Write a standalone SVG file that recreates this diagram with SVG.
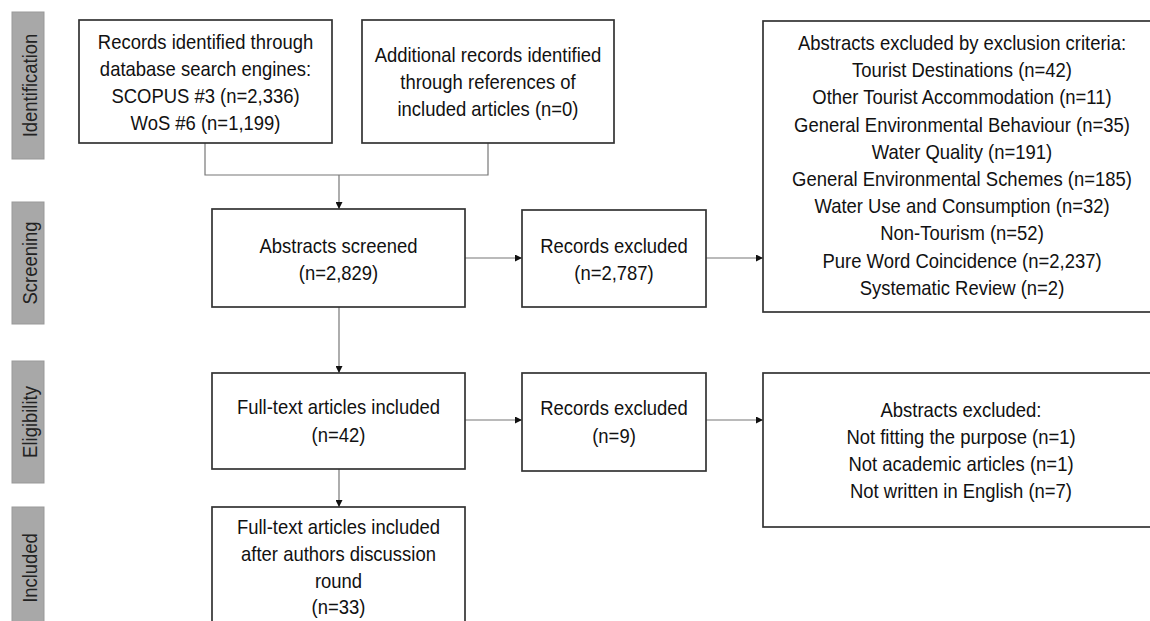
<svg xmlns="http://www.w3.org/2000/svg" width="1150" height="621" viewBox="0 0 1150 621">
<style>
.bg{fill:#ffffff}
.box{fill:#ffffff;stroke:#333333;stroke-width:1.7}
.lab{fill:#a8a8a8;stroke:#999999;stroke-width:1}
.t{font-family:"Liberation Sans",Arial,sans-serif;font-size:20.5px;fill:#111111;text-anchor:middle}
.lt{font-family:"Liberation Sans",Arial,sans-serif;font-size:20.5px;fill:#222222;text-anchor:middle}
.c{fill:none;stroke:#777777;stroke-width:1.2}
</style>
<defs>
<marker id="ah" viewBox="0 0 10 10" refX="10" refY="5" markerWidth="8" markerHeight="7" markerUnits="userSpaceOnUse" orient="auto">
<path d="M0,0 L10,5 L0,10 z" fill="#111111"/>
</marker>
</defs>
<rect class="bg" x="0" y="0" width="1150" height="621"/>
<g id="stage-identification">
<rect class="lab" x="12" y="12" width="32" height="147"/>
<text class="lt" transform="translate(36.5 85.5) rotate(-90) scale(0.9 1)">Identification</text>
</g>
<g id="stage-screening">
<rect class="lab" x="12" y="202" width="32" height="122"/>
<text class="lt" transform="translate(36.5 263) rotate(-90) scale(0.9 1)">Screening</text>
</g>
<g id="stage-eligibility">
<rect class="lab" x="12" y="361" width="32" height="122"/>
<text class="lt" transform="translate(36.5 422) rotate(-90) scale(0.9 1)">Eligibility</text>
</g>
<g id="stage-included">
<rect class="lab" x="12" y="507" width="32" height="123"/>
<text class="lt" transform="translate(36.5 568) rotate(-90) scale(0.9 1)">Included</text>
</g>
<g id="connectors">
<path class="c" d="M205,143 V175 H488 V143"/>
<path class="c" d="M339,175 V209" marker-end="url(#ah)"/>
<path class="c" d="M465,258 H522" marker-end="url(#ah)"/>
<path class="c" d="M706,258 H763" marker-end="url(#ah)"/>
<path class="c" d="M339,307 V373" marker-end="url(#ah)"/>
<path class="c" d="M465,420 H522" marker-end="url(#ah)"/>
<path class="c" d="M706,420 H763" marker-end="url(#ah)"/>
<path class="c" d="M339,469 V507" marker-end="url(#ah)"/>
</g>
<g id="records-db">
<rect class="box" x="79" y="20" width="253" height="123"/>
<g transform="translate(205.5 0) scale(0.9 1)">
<text class="t" x="0" y="49">Records identified through</text>
<text class="t" x="0" y="76">database search engines:</text>
<text class="t" x="0" y="103">SCOPUS #3 (n=2,336)</text>
<text class="t" x="0" y="130">WoS #6 (n=1,199)</text>
</g>
</g>
<g id="records-additional">
<rect class="box" x="362" y="20" width="252" height="123"/>
<g transform="translate(488 0) scale(0.9 1)">
<text class="t" x="0" y="62">Additional records identified</text>
<text class="t" x="0" y="89">through references of</text>
<text class="t" x="0" y="116">included articles (n=0)</text>
</g>
</g>
<g id="abstracts-screened">
<rect class="box" x="212" y="209" width="253" height="98"/>
<g transform="translate(338.5 0) scale(0.9 1)">
<text class="t" x="0" y="253">Abstracts screened</text>
<text class="t" x="0" y="280">(n=2,829)</text>
</g>
</g>
<g id="records-excluded-1">
<rect class="box" x="522" y="210" width="184" height="97"/>
<g transform="translate(614 0) scale(0.9 1)">
<text class="t" x="0" y="253">Records excluded</text>
<text class="t" x="0" y="280">(n=2,787)</text>
</g>
</g>
<g id="abstracts-excluded-criteria">
<rect class="box" x="763" y="21" width="400" height="291"/>
<g transform="translate(962 0) scale(0.9 1)">
<text class="t" x="0" y="50">Abstracts excluded by exclusion criteria:</text>
<text class="t" x="0" y="77.2">Tourist Destinations (n=42)</text>
<text class="t" x="0" y="104.4">Other Tourist Accommodation (n=11)</text>
<text class="t" x="0" y="131.6">General Environmental Behaviour (n=35)</text>
<text class="t" x="0" y="158.8">Water Quality (n=191)</text>
<text class="t" x="0" y="186">General Environmental Schemes (n=185)</text>
<text class="t" x="0" y="213.2">Water Use and Consumption (n=32)</text>
<text class="t" x="0" y="240.4">Non-Tourism (n=52)</text>
<text class="t" x="0" y="267.6">Pure Word Coincidence (n=2,237)</text>
<text class="t" x="0" y="294.8">Systematic Review (n=2)</text>
</g>
</g>
<g id="fulltext-included">
<rect class="box" x="212" y="373" width="253" height="96"/>
<g transform="translate(338.5 0) scale(0.9 1)">
<text class="t" x="0" y="414.5">Full-text articles included</text>
<text class="t" x="0" y="442.5">(n=42)</text>
</g>
</g>
<g id="records-excluded-2">
<rect class="box" x="522" y="373" width="184" height="98"/>
<g transform="translate(614 0) scale(0.9 1)">
<text class="t" x="0" y="415.5">Records excluded</text>
<text class="t" x="0" y="443.5">(n=9)</text>
</g>
</g>
<g id="abstracts-excluded">
<rect class="box" x="763" y="373" width="400" height="154"/>
<g transform="translate(961 0) scale(0.9 1)">
<text class="t" x="0" y="417">Abstracts excluded:</text>
<text class="t" x="0" y="444.5">Not fitting the purpose (n=1)</text>
<text class="t" x="0" y="471.5">Not academic articles (n=1)</text>
<text class="t" x="0" y="498">Not written in English (n=7)</text>
</g>
</g>
<g id="fulltext-final">
<rect class="box" x="212" y="507" width="253" height="125"/>
<g transform="translate(338.5 0) scale(0.9 1)">
<text class="t" x="0" y="534.5">Full-text articles included</text>
<text class="t" x="0" y="561.5">after authors discussion</text>
<text class="t" x="0" y="588">round</text>
<text class="t" x="0" y="614.5">(n=33)</text>
</g>
</g>
</svg>
